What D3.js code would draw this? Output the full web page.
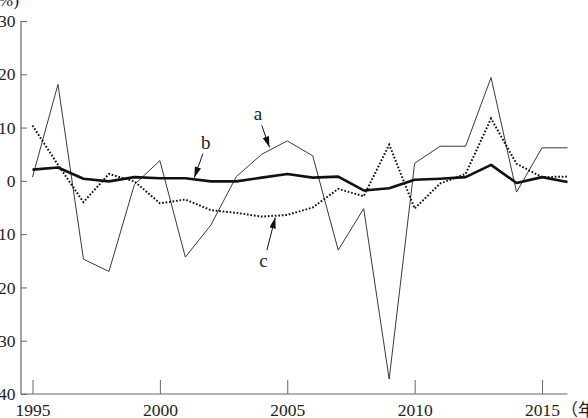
<!DOCTYPE html>
<html>
<head>
<meta charset="utf-8">
<script src="https://cdn.jsdelivr.net/npm/d3@7"></script>
<style>
  html, body { margin: 0; padding: 0; background: #fff; }
  svg { display: block; }
</style>
</head>
<body>
<div id="chart"></div>
<script>
// years on the x axis
const years = d3.range(1995, 2017);

// series values (%)
const seriesA = [0.7, 18.1, -14.7, -17.0, -0.7, 3.8, -14.3, -8.3, 0.8, 5.0, 7.5, 4.7,
  -13.0, -5.2, -37.2, 3.3, 6.5, 6.5, 19.4, -2.1, 6.2, 6.2];
const seriesB = [2.1, 2.5, 0.4, -0.1, 0.7, 0.5, 0.5, -0.1, -0.1, 0.6, 1.3, 0.6,
  0.8, -1.8, -1.4, 0.2, 0.4, 0.7, 3.0, -0.4, 0.7, -0.2];
const seriesC = [10.4, 3.0, -4.0, 1.3, -0.1, -4.2, -3.5, -5.5, -6.0, -6.7, -6.4, -5.0,
  -1.5, -2.9, 6.8, -5.2, -0.5, 1.3, 11.7, 3.2, 0.7, 0.8];

const yTicks = [30, 20, 10, 0, -10, -20, -30, -40];
const xTicks = [1995, 2000, 2005, 2010, 2015];

// label positions and arrow (from -> to) in data units
const notes = [
  { label: 'a', at: [2003.85, 12.5], from: [2004.0, 10.4], to: [2004.3, 6.3] },
  { label: 'b', at: [2001.8, 7.1], from: [2001.69, 5.1], to: [2001.35, 0.6] },
  { label: 'c', at: [2004.07, -15.1], from: [2004.2, -13.0], to: [2004.53, -6.9] }
];

const width = 588, height = 418;
const axisX = 21;
const serif = '"Liberation Serif", "DejaVu Serif", "Times New Roman", serif';
const cjk = '"Liberation Serif", "Noto Sans CJK JP", serif';

const x = d3.scaleLinear().domain([1995, 2016]).range([32.5, 567.5]);
const y = d3.scaleLinear().domain([-40, 30]).range([394, 21]);

const svg = d3.select('#chart').append('svg')
  .attr('width', width)
  .attr('height', height);

// arrowhead
svg.append('defs').append('marker')
  .attr('id', 'head')
  .attr('viewBox', '0 0 10 6')
  .attr('refX', 10).attr('refY', 3)
  .attr('markerWidth', 11).attr('markerHeight', 6.5)
  .attr('markerUnits', 'userSpaceOnUse')
  .attr('orient', 'auto')
  .append('path').attr('d', 'M0,0 L10,3 L0,6 Z').attr('fill', '#111');

const axisColor = '#666';

// y axis
const yAxis = svg.append('g')
  .attr('transform', `translate(${axisX},0)`)
  .call(d3.axisLeft(y).tickValues(yTicks).tickSizeInner(-6).tickSizeOuter(0).tickPadding(5.5)
    .tickFormat(d => d < 0 ? '\u2212' + Math.abs(d) : d));
yAxis.attr('font-family', null);
yAxis.select('.domain').remove();
yAxis.selectAll('line').attr('stroke', axisColor);
yAxis.selectAll('text')
  .style('font-family', serif).style('font-size', '17.5px').attr('fill', '#222');

// x axis
const xAxis = svg.append('g')
  .attr('transform', `translate(0,${y(-40)})`)
  .call(d3.axisBottom(x).tickValues(xTicks).tickSizeInner(-14).tickSizeOuter(0).tickPadding(10)
    .tickFormat(d3.format('d')));
xAxis.attr('font-family', null);
xAxis.select('.domain').remove();
xAxis.selectAll('line').attr('stroke', axisColor);
xAxis.selectAll('text')
  .style('font-family', serif).style('font-size', '17.5px').attr('fill', '#222');

// axis lines
svg.append('line')
  .attr('x1', axisX).attr('x2', axisX)
  .attr('y1', y(30)).attr('y2', y(-40))
  .attr('stroke', axisColor).attr('stroke-width', 1.2);
svg.append('line')
  .attr('x1', axisX).attr('x2', x(2016))
  .attr('y1', y(-40)).attr('y2', y(-40))
  .attr('stroke', axisColor).attr('stroke-width', 1.2);

// unit labels
svg.append('text')
  .attr('x', axisX - 2).attr('y', 6)
  .attr('text-anchor', 'end')
  .style('font-family', serif).style('font-size', '17.5px')
  .attr('fill', '#222')
  .text('(%)');
svg.append('text')
  .attr('x', x(2015) + 19).attr('y', y(-40) + 22)
  .style('font-family', cjk).style('font-size', '17px')
  .attr('fill', '#222')
  .text('\uff08年\uff09');

const line = d3.line().x((d, i) => x(years[i])).y(d => y(d));

// series a: thin
svg.append('path').datum(seriesA)
  .attr('d', line)
  .attr('fill', 'none')
  .attr('stroke', '#3a3a3a')
  .attr('stroke-width', 1)
  .attr('stroke-linejoin', 'miter');

// series c: dotted
svg.append('path').datum(seriesC)
  .attr('d', line)
  .attr('fill', 'none')
  .attr('stroke', '#111')
  .attr('stroke-width', 2)
  .attr('stroke-dasharray', '1.7,1.8');

// series b: thick
svg.append('path').datum(seriesB)
  .attr('d', line)
  .attr('fill', 'none')
  .attr('stroke', '#111')
  .attr('stroke-width', 2.6)
  .attr('stroke-linejoin', 'round');

// annotations
const ann = svg.append('g');
ann.selectAll('line')
  .data(notes)
  .join('line')
  .attr('x1', d => x(d.from[0])).attr('y1', d => y(d.from[1]))
  .attr('x2', d => x(d.to[0])).attr('y2', d => y(d.to[1]))
  .attr('stroke', '#111')
  .attr('stroke-width', 1)
  .attr('marker-end', 'url(#head)');
ann.selectAll('text')
  .data(notes)
  .join('text')
  .attr('x', d => x(d.at[0])).attr('y', d => y(d.at[1]))
  .attr('dy', '0.3em')
  .attr('text-anchor', 'middle')
  .style('font-family', serif).style('font-size', '19px')
  .attr('fill', '#222')
  .text(d => d.label);
</script>
</body>
</html>
